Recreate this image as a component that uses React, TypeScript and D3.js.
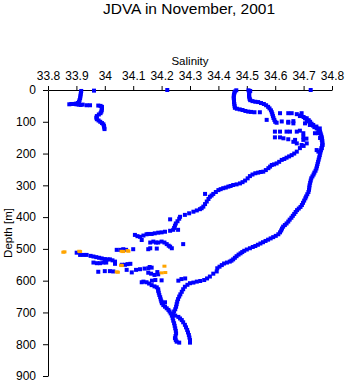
import { useRef, useEffect } from "react";
import * as d3 from "d3";

// [salinity, depth m]
const surfaceLeft: [number, number][] = [
  [33.917, 3], [33.916, 8], [33.915, 14], [33.914, 20], [33.913, 26], [33.911, 32],
  [33.909, 37], [33.905, 41], [33.898, 43], [33.89, 44], [33.882, 44], [33.875, 45],
  [33.9, 45], [33.908, 46], [33.915, 47], [33.922, 46], [33.936, 48], [33.948, 48],
  [33.962, 2], [34.22, 0], [34.725, 0],
];

const shallowLeft: [number, number][] = [
  [33.977, 49], [33.985, 50], [33.99, 53], [33.99, 58], [33.989, 63], [33.988, 68],
  [33.985, 73], [33.979, 77], [33.972, 82], [33.97, 87], [33.972, 92], [33.978, 96],
  [33.984, 100], [33.99, 104], [33.995, 108], [33.997, 113], [33.998, 118], [33.999, 123],
];

const firstCast: [number, number][] = [
  [34.463, 1], [34.458, 5], [34.456, 10], [34.455, 15], [34.454, 20], [34.454, 26],
  [34.455, 32], [34.455, 38], [34.456, 44], [34.457, 50], [34.458, 56], [34.465, 59],
  [34.475, 61], [34.485, 63], [34.495, 66], [34.505, 68], [34.515, 69], [34.527, 70],
  [34.546, 70], [34.57, 94],
];

const secondCast: [number, number][] = [
  [34.506, 1], [34.512, 3], [34.509, 8], [34.508, 13], [34.508, 18], [34.509, 23],
  [34.51, 28], [34.512, 32], [34.52, 35], [34.53, 37], [34.54, 38], [34.55, 41],
  [34.56, 44], [34.568, 48], [34.575, 53], [34.58, 58], [34.585, 64], [34.588, 70],
  [34.59, 76], [34.592, 82], [34.594, 88], [34.597, 94], [34.6, 100], [34.605, 103],
];

const maxBlob: [number, number][] = [
  [34.617, 73], [34.646, 73], [34.658, 73], [34.676, 76], [34.687, 82], [34.693, 73],
  [34.705, 89], [34.711, 99], [34.705, 105], [34.722, 110], [34.734, 110], [34.745, 115],
  [34.757, 121], [34.74, 136], [34.752, 136], [34.758, 151], [34.764, 157], [34.767, 173],
  [34.764, 183], [34.746, 189], [34.752, 194], [34.699, 136], [34.699, 147], [34.71, 153],
  [34.699, 157], [34.599, 131], [34.617, 131], [34.64, 131], [34.652, 131], [34.676, 131],
  [34.687, 128], [34.599, 149], [34.617, 149], [34.629, 152], [34.646, 155], [34.67, 157],
  [34.664, 163], [34.676, 168], [34.693, 173], [34.623, 99], [34.646, 100], [34.664, 98],
  [34.646, 103], [34.664, 105],
];

const rightProfile: [number, number][] = [
  [34.69, 80], [34.7, 85], [34.711, 89], [34.718, 95], [34.723, 100], [34.728, 106],
  [34.733, 112], [34.738, 117], [34.746, 121], [34.752, 126], [34.758, 131], [34.76, 137],
  [34.762, 143], [34.764, 149], [34.765, 155], [34.766, 161], [34.766, 168], [34.765, 175],
  [34.763, 183], [34.761, 190], [34.759, 197], [34.757, 205], [34.755, 212], [34.753, 219],
  [34.751, 226], [34.749, 233], [34.747, 240], [34.745, 247], [34.742, 254], [34.738, 260],
  [34.735, 266], [34.731, 272], [34.727, 278], [34.725, 285], [34.723, 292], [34.721, 300],
  [34.72, 307], [34.719, 314], [34.717, 321], [34.713, 328], [34.709, 335], [34.706, 341],
  [34.702, 348], [34.698, 355], [34.694, 362], [34.689, 368], [34.683, 373], [34.677, 378],
  [34.672, 384], [34.667, 390], [34.662, 396], [34.657, 402], [34.651, 408], [34.646, 414],
  [34.64, 420], [34.634, 425], [34.628, 430], [34.624, 436], [34.621, 442], [34.617, 448],
  [34.611, 454], [34.602, 459], [34.593, 463], [34.584, 467], [34.575, 471], [34.566, 475],
  [34.557, 479], [34.548, 483], [34.539, 487], [34.53, 491], [34.521, 494], [34.511, 498],
  [34.5, 502], [34.491, 506], [34.484, 510], [34.478, 514], [34.471, 518], [34.464, 523],
  [34.458, 528], [34.452, 533], [34.446, 537], [34.44, 540], [34.43, 543], [34.42, 546],
  [34.412, 551], [34.404, 556], [34.396, 561], [34.394, 571], [34.382, 578], [34.37, 587],
  [34.36, 593], [34.35, 598], [34.336, 601], [34.324, 603], [34.312, 606], [34.3, 608],
  [34.291, 613], [34.282, 619], [34.276, 627], [34.271, 635], [34.266, 643], [34.262, 650],
  [34.258, 658], [34.255, 666], [34.253, 674], [34.251, 682], [34.248, 690], [34.244, 697],
  [34.241, 705], [34.248, 710], [34.259, 714], [34.265, 719], [34.271, 724], [34.276, 731],
  [34.282, 739], [34.286, 747], [34.29, 755], [34.293, 763], [34.296, 771], [34.298, 779],
  [34.3, 787], [34.3, 795],
];

const leftProfile: [number, number][] = [
  [34.711, 168], [34.7, 176], [34.687, 183], [34.676, 194], [34.667, 200], [34.658, 205],
  [34.649, 209], [34.64, 213], [34.632, 217], [34.623, 220], [34.614, 226], [34.605, 231],
  [34.596, 234], [34.588, 236], [34.582, 241], [34.576, 246], [34.567, 252], [34.558, 257],
  [34.549, 258], [34.54, 260], [34.53, 262], [34.52, 266], [34.511, 271], [34.503, 278],
  [34.494, 285], [34.485, 290], [34.476, 294], [34.464, 297], [34.452, 299], [34.443, 302],
  [34.435, 304], [34.426, 307], [34.417, 309], [34.408, 312], [34.4, 315], [34.391, 321],
  [34.382, 327], [34.376, 332], [34.37, 336], [34.365, 343], [34.359, 351], [34.353, 359],
  [34.347, 367], [34.341, 372], [34.335, 375], [34.324, 379], [34.312, 383], [34.297, 388],
  [34.282, 393], [34.265, 399], [34.262, 405], [34.256, 413], [34.25, 420], [34.247, 427],
  [34.244, 434], [34.241, 440], [34.353, 327], [34.23, 407], [34.258, 440],
  [34.23, 443], [34.212, 446], [34.2, 448], [34.188, 449], [34.176, 451], [34.165, 453],
  [34.153, 453], [34.147, 454], [34.136, 458], [34.124, 462], [34.115, 460], [34.106, 456],
  [34.13, 472], [34.16, 480], [34.171, 477], [34.18, 480], [34.188, 480], [34.2, 477],
  [34.21, 480], [34.218, 485], [34.225, 490], [34.23, 493], [34.236, 498], [34.16, 498],
  [34.153, 501], [34.276, 485], [34.183, 499],
];

const midCloud: [number, number][] = [
  [33.901, 512], [33.913, 519], [33.925, 519], [33.936, 519], [33.95, 522], [33.96, 524],
  [33.97, 526], [33.98, 528], [33.989, 530], [34.0, 532], [34.01, 533], [34.018, 533],
  [34.027, 536], [34.036, 540], [34.036, 547], [33.96, 543], [33.972, 545], [33.983, 545],
  [33.995, 543], [34.005, 543], [33.977, 572], [34.0, 570], [34.018, 570], [34.03, 571],
  [34.042, 503], [34.055, 503], [34.075, 503], [34.1, 501], [34.065, 501], [34.06, 550],
  [34.071, 550], [34.08, 548], [34.09, 547], [34.077, 566], [34.095, 574], [34.11, 566],
  [34.124, 564], [34.14, 562], [34.153, 561], [34.158, 557], [34.165, 559], [34.153, 575],
  [34.163, 578], [34.175, 582], [34.188, 580], [34.185, 573], [34.136, 603], [34.166, 600],
  [34.178, 598], [34.2, 599], [34.259, 600], [34.27, 595], [34.283, 593],
];

const bottomBranch: [number, number][] = [
  [34.13, 605], [34.147, 605], [34.156, 609], [34.165, 614], [34.175, 618], [34.183, 621],
  [34.188, 627], [34.188, 632], [34.19, 638], [34.192, 645], [34.195, 652], [34.197, 659],
  [34.199, 665], [34.201, 671], [34.206, 677], [34.212, 682], [34.218, 687], [34.224, 692],
  [34.228, 697], [34.232, 703], [34.236, 710], [34.239, 718], [34.241, 726], [34.244, 734],
  [34.246, 742], [34.248, 750], [34.25, 758], [34.251, 766], [34.249, 774], [34.247, 781],
  [34.25, 787], [34.253, 792], [34.262, 795], [34.212, 668],
];

// flagged samples
const orangePoints: [number, number][] = [
  [33.854, 512], [33.858, 511], [33.91, 509], [33.913, 510], [34.059, 509], [34.065, 510],
  [34.08, 507], [34.083, 509], [34.057, 553], [34.06, 554], [34.042, 574], [34.046, 575],
  [34.21, 556], [34.2, 577], [34.213, 576],
];

const salinityTicks = [33.8, 33.9, 34, 34.1, 34.2, 34.3, 34.4, 34.5, 34.6, 34.7, 34.8];
const depthTicks = [0, 100, 200, 300, 400, 500, 600, 700, 800, 900];

const FONT = "'Liberation Sans', Arial, sans-serif";

export default function App() {
  const svgRef = useRef<SVGSVGElement>(null);

  useEffect(() => {
    if (!svgRef.current) return;
    const width = 346;
    const height = 384;
    const svg = d3.select(svgRef.current);
    svg.selectAll("*").remove();
    svg.attr("width", width).attr("height", height);

    const x = d3.scaleLinear().domain([33.8, 34.8]).range([48, 332]);
    const y = d3.scaleLinear().domain([0, 900]).range([90, 376]);

    // Title
    svg.append("text")
      .attr("x", 189)
      .attr("y", 14)
      .attr("text-anchor", "middle")
      .attr("font-family", FONT)
      .attr("font-size", 15.5)
      .text("JDVA in November, 2001");

    // Top axis
    const xAxis = svg.append("g")
      .attr("transform", "translate(0,90)")
      .call(
        d3.axisTop(x)
          .tickValues(salinityTicks)
          .tickSize(4)
          .tickSizeOuter(0)
          .tickPadding(6)
          .tickFormat((d) => String(d))
      );
    xAxis.selectAll("text").attr("font-size", 12).attr("font-family", FONT).attr("fill", "#000");
    xAxis.selectAll("line,path").attr("stroke", "#000");

    svg.append("text")
      .attr("x", 190)
      .attr("y", 65)
      .attr("text-anchor", "middle")
      .attr("font-family", FONT)
      .attr("font-size", 11.5)
      .text("Salinity");

    // Left axis
    const yAxis = svg.append("g")
      .attr("transform", "translate(48,0)")
      .call(
        d3.axisLeft(y)
          .tickValues(depthTicks)
          .tickSize(5)
          .tickSizeOuter(0)
          .tickPadding(7)
          .tickFormat((d) => String(d))
      );
    yAxis.selectAll("text").attr("font-size", 12).attr("font-family", FONT).attr("fill", "#000");
    yAxis.selectAll("line,path").attr("stroke", "#000");

    svg.append("text")
      .attr("transform", "translate(12,233) rotate(-90)")
      .attr("text-anchor", "middle")
      .attr("font-family", FONT)
      .attr("font-size", 11.5)
      .text("Depth [m]");

    const blue = [
      ...surfaceLeft, ...shallowLeft, ...firstCast, ...secondCast, ...maxBlob,
      ...rightProfile, ...leftProfile, ...midCloud, ...bottomBranch,
    ];
    const s = 4;

    svg.append("g")
      .selectAll("rect")
      .data(blue)
      .enter()
      .append("rect")
      .attr("x", (d) => x(d[0]) - s / 2)
      .attr("y", (d) => y(d[1]) - s / 2)
      .attr("width", s)
      .attr("height", s)
      .attr("fill", "#0000ff");

    svg.append("g")
      .selectAll("rect")
      .data(orangePoints)
      .enter()
      .append("rect")
      .attr("x", (d) => x(d[0]) - s / 2)
      .attr("y", (d) => y(d[1]) - s / 2)
      .attr("width", s)
      .attr("height", 3)
      .attr("fill", "#ffa500");
  }, []);

  return (
    <div style={{ position: "absolute", left: 0, top: 0, background: "#fff" }}>
      <svg ref={svgRef} style={{ display: "block" }} />
    </div>
  );
}
